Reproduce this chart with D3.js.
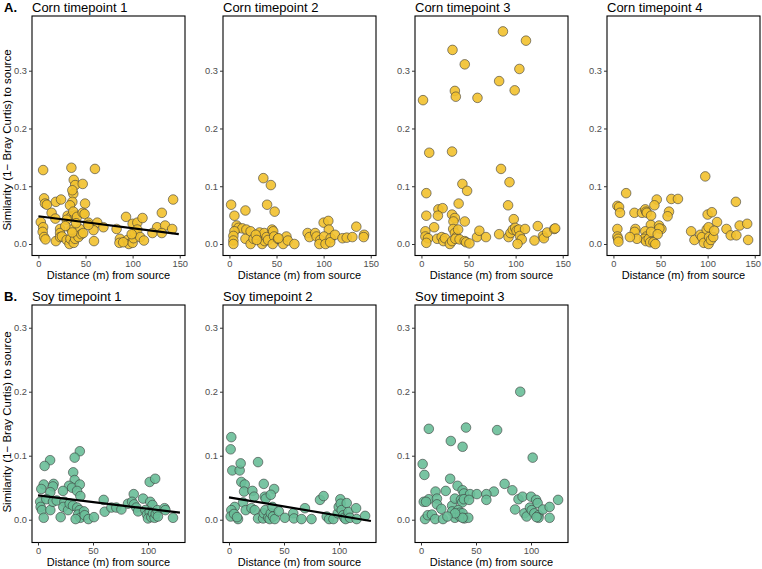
<!DOCTYPE html>
<html>
<head>
<meta charset="utf-8">
<script src="https://cdn.jsdelivr.net/npm/d3@7"></script>
<style>
  body { margin: 0; background: #fff; }
  svg text { font-family: "Liberation Sans", Arial, Helvetica, sans-serif; }
</style>
</head>
<body>
<div id="container"></div>
<script>
/* DATA: distance (m) and similarity (1 - Bray Curtis) */
const cornX1 = [5,35,60,37.5,39,47,6,7,9,18.5,24,37,36,33.5,36,49.5,143,14,18,31,35,39,37,41,47,49,53,62.5,69,93,100,105,110.5,131,126,134.5,142,2.5,5,4.5,6,7.5,18.5,23,23,23,25,30,33,34,35,37.5,39,42.5,44,45.5,47.5,59,58.5,83,86.5,86,94.5,96,100,101,102,105,108,112,121,131,99,90,30,28.5,40,53,36];
const cornY1 = [0.128,0.132,0.130,0.111,0.102,0.104,0.079,0.070,0.068,0.073,0.077,0.087,0.073,0.067,0.093,0.070,0.077,0.054,0.044,0.049,0.048,0.050,0.056,0.047,0.054,0.052,0.037,0.037,0.029,0.047,0.035,0.037,0.045,0.054,0.029,0.032,0.026,0.038,0.029,0.021,0.012,0.008,0.005,0.026,0.019,0.012,0.013,0.007,0.000,0.009,0.025,0.002,0.009,0.012,0.026,0.017,0.019,0.005,0.024,0.026,0.009,0.002,0.007,0.000,0.002,0.010,0.019,0.025,0.012,0.006,0.019,0.019,0.017,0.003,0.042,0.031,0.036,0.033,0.020];

const cornX2 = [1.8,5.3,17,36,44,40,48,7.7,9.5,13.7,5.3,4.2,4.2,4.2,18,17,22.5,22.5,25.6,32,34,34.7,37.5,37,39.5,41,45.3,46.5,47.5,46,51.5,57,60.5,62,69,83,85,91,92.5,96.5,95.5,100,105,105.5,100.5,107.5,102,107,112,120,124.5,130.5,134.7,143,142.5,28,29,52];
const cornY2 = [0.068,0.049,0.058,0.114,0.102,0.068,0.056,0.032,0.028,0.027,0.022,0.014,0.006,0.000,0.025,0.009,0.022,0.000,0.009,0.020,0.013,0.000,0.005,0.019,0.012,0.007,0.025,0.022,0.013,0.000,0.009,0.000,0.013,0.006,0.000,0.019,0.012,0.019,0.013,0.007,0.000,0.037,0.040,0.025,0.013,0.010,0.000,0.003,0.016,0.010,0.011,0.012,0.030,0.016,0.012,0.016,0.007,0.010];

const cornX3 = [86.5,111,33,46,104,82.5,99,35.5,36.5,59.5,1.7,8.3,32.5,84.5,93.5,43.5,48.5,5.2,39.5,92,18,22.5,17.5,5.2,32.5,35.5,34,46,98,13.5,4.2,4.2,7,5.2,16.7,21.5,23.3,25,30.2,32.5,33.7,35.5,37,36,39,40.5,46,47.5,51,59,61.5,68.5,82.5,92.5,94.5,97,99.5,101,103.5,104.5,106.5,102,110,120,123.5,129,130,133.5,141,142];
const cornY3 = [0.368,0.352,0.336,0.311,0.303,0.282,0.266,0.265,0.255,0.253,0.249,0.158,0.160,0.130,0.107,0.104,0.092,0.088,0.070,0.067,0.060,0.062,0.049,0.049,0.051,0.045,0.039,0.039,0.043,0.029,0.022,0.013,0.010,0.002,0.009,0.012,0.005,0.010,0.000,0.005,0.026,0.019,0.012,0.009,0.025,0.008,0.005,0.003,0.001,0.012,0.023,0.012,0.017,0.012,0.019,0.025,0.028,0.023,0.025,0.014,0.008,0.000,0.026,0.006,0.031,0.014,0.010,0.020,0.026,0.027];

const cornX4 = [97.5,13.5,61.5,68.5,46,43.5,130,4.2,6,7,22.3,30.3,33.8,34.8,35.5,40,59,57.5,100,104.5,110,4.2,23.3,22.6,39.7,48.4,51,48.8,33.8,35,32.5,34.5,37.5,40,39,42.5,44.5,47,25,17.5,4.2,5,5.3,82.5,86,92.3,94,96,99,101,101.5,101,103.5,106,107,120,124.5,130.5,134,142,143];
const cornY4 = [0.117,0.088,0.078,0.078,0.077,0.067,0.073,0.066,0.064,0.054,0.054,0.054,0.060,0.056,0.054,0.049,0.056,0.048,0.051,0.055,0.038,0.026,0.026,0.021,0.033,0.032,0.026,0.027,0.022,0.013,0.009,0.005,0.009,0.021,0.003,0.003,0.000,0.017,0.009,0.012,0.013,0.009,0.004,0.022,0.007,0.016,0.012,0.002,0.025,0.029,0.012,0.000,0.007,0.012,0.023,0.026,0.015,0.015,0.032,0.035,0.007];

const soyX1 = [38,33.3,11,6,32,33.3,101.5,106.5,5.2,14.2,13.6,3,28.2,31,22.7,11.2,38,35.5,38.5,87,95.5,102,104,2,7.6,2.4,3.6,5.2,11.2,13.6,17,20.6,24,23,27.3,28.8,31.8,35.7,37.9,36.4,38.5,34.2,41.8,42.4,45.8,50.9,59.7,60.6,66.7,71.2,75.8,81.8,85.5,87.3,89.4,91,97.6,99,101.5,100,103,104.5,106,107,108.5,109,115,115.8,122.7];
const soyY1 = [0.107,0.097,0.093,0.084,0.074,0.062,0.059,0.064,0.055,0.056,0.052,0.048,0.053,0.050,0.045,0.043,0.055,0.045,0.037,0.040,0.033,0.028,0.023,0.028,0.032,0.020,0.015,0.003,0.015,0.028,0.030,0.004,0.028,0.020,0.015,0.025,0.022,0.019,0.015,0.008,0.003,0.001,0.013,0.007,0.001,0.004,0.031,0.0125,0.019,0.019,0.016,0.025,0.028,0.024,0.019,0.013,0.015,0.008,0.012,0.002,0.004,0.010,0.003,0.009,0.015,0.005,0.018,0.015,0.003];

const soyX2 = [2.1,1.5,3,9.7,10.6,26.4,11.2,14.3,13.7,31.6,21.3,41,22.8,32.5,33.4,38,12.8,15.2,5.2,2.1,1.5,4.6,8.2,7.3,20.4,23.4,26.4,31,31.6,33,35.6,37,38,39.5,40,41.6,45.3,50.8,58.4,59,65.9,69,75,82.7,86,88.8,91,94.9,98.8,99.7,101.2,101.5,102.4,103.9,104.8,106,107,108.5,110,115.5,116,123.7];
const soyY2 = [0.129,0.110,0.077,0.077,0.088,0.090,0.059,0.055,0.044,0.056,0.045,0.048,0.036,0.036,0.033,0.039,0.027,0.015,0.020,0.015,0.005,0.009,0.001,0.004,0.018,0.015,0.002,0.002,0.010,0.015,0.003,0.001,0.010,0.020,0.005,0.001,0.013,0.003,0.010,0.002,0.001,0.018,0.001,0.031,0.037,0.005,0.001,0.001,0.010,0.020,0.032,0.025,0.015,0.007,0.003,0.001,0.026,0.012,0.003,0.018,0.001,0.006];

const soyX3 = [90.2,7.1,40.9,69.2,27.1,37.8,101.5,1.5,3.1,26.5,76,33.2,83,22.5,13.2,37.8,39,44.6,50.8,66.2,59.4,59.4,7.1,2.5,4.6,14.5,14.5,18.5,28.3,30.8,36.3,37.5,39,43.7,28.3,30.8,33.8,35.4,35.4,37.8,39.4,43,37.8,31,3.7,6.2,9.9,12.9,20,24,88.6,92.3,85.5,94,96,100,99,100.6,103,104.6,106,106.8,106.8,105,110.8,116.9,116.9,124.6];
const soyY3 = [0.200,0.142,0.144,0.140,0.123,0.114,0.097,0.087,0.070,0.064,0.056,0.053,0.046,0.045,0.044,0.046,0.041,0.040,0.040,0.044,0.040,0.031,0.032,0.028,0.028,0.033,0.024,0.017,0.022,0.033,0.031,0.027,0.032,0.031,0.013,0.003,0.015,0.011,0.005,0.010,0.002,0.003,0.003,0.010,0.001,0.007,0.008,0.001,0.001,0.005,0.032,0.036,0.016,0.010,0.005,0.036,0.019,0.015,0.010,0.031,0.026,0.007,0.003,0.004,0.016,0.020,0.003,0.031];

// fitted lines (endpoints)
const cornFit1 = {x: [0, 149], y: [0.048, 0.017]};
const soyFit1 = {x: [0, 129], y: [0.038, 0.011]};
const soyFit2 = {x: [0, 129], y: [0.035, -0.002]};

const titles = ["Corn timepoint 1","Corn timepoint 2","Corn timepoint 3","Corn timepoint 4",
                "Soy timepoint 1","Soy timepoint 2","Soy timepoint 3"];
const xTicks = [0, 50, 100, 150];
const yTicks = [0.0, 0.1, 0.2, 0.3];

/* LAYOUT */
const width = 762, height = 569;
const panelW = 153;
const colLeft = [32, 223, 415, 607];
const rows = [
  {top: 16, bottom: 255.5, yDomain: [-0.0199, 0.3947], xDomain: [-6.82, 155.6], fill: "#F2C12E", label: "A.", titleY: 12, yTitleC: 140},
  {top: 305, bottom: 542.5, yDomain: [-0.0356, 0.3355], xDomain: [-5.45, 133.6], fill: "#69BE98", label: "B.", titleY: 301, yTitleC: 422}
];

const panels = [
  {row: 0, col: 0, x: cornX1, y: cornY1, fit: cornFit1},
  {row: 0, col: 1, x: cornX2, y: cornY2},
  {row: 0, col: 2, x: cornX3, y: cornY3},
  {row: 0, col: 3, x: cornX4, y: cornY4},
  {row: 1, col: 0, x: soyX1, y: soyY1, fit: soyFit1},
  {row: 1, col: 1, x: soyX2, y: soyY2, fit: soyFit2},
  {row: 1, col: 2, x: soyX3, y: soyY3}
];

const svg = d3.select("#container")
  .append("svg")
  .attr("width", width)
  .attr("height", height);

panels.forEach((p, i) => {
  const r = rows[p.row];
  const left = colLeft[p.col];
  const xScale = d3.scaleLinear().domain(r.xDomain).range([left, left + panelW]);
  const yScale = d3.scaleLinear().domain(r.yDomain).range([r.bottom, r.top]);

  // points
  const pts = d3.zip(p.x, p.y);
  svg.append("g").selectAll("circle")
    .data(pts)
    .join("circle")
    .attr("cx", d => xScale(d[0]))
    .attr("cy", d => yScale(d[1]))
    .attr("r", 4.8)
    .attr("fill", r.fill)
    .attr("fill-opacity", 0.9)
    .attr("stroke", "#3a3a3a")
    .attr("stroke-width", 0.6);

  // fit line
  if (p.fit) {
    svg.append("path")
      .datum(d3.zip(p.fit.x, p.fit.y))
      .attr("d", d3.line().x(d => xScale(d[0])).y(d => yScale(d[1])))
      .attr("stroke", "#000")
      .attr("stroke-width", 2.2)
      .attr("fill", "none");
  }

  // border
  svg.append("rect")
    .attr("x", left).attr("y", r.top)
    .attr("width", panelW).attr("height", r.bottom - r.top)
    .attr("fill", "none").attr("stroke", "#000").attr("stroke-width", 1.1);

  // axes
  const xAxis = svg.append("g")
    .attr("transform", `translate(0,${r.bottom})`)
    .call(d3.axisBottom(xScale).tickValues(xTicks.filter(t => t <= r.xDomain[1])).tickFormat(d3.format("d")).tickSize(3).tickPadding(1.5));
  const yAxis = svg.append("g")
    .attr("transform", `translate(${left},0)`)
    .call(d3.axisLeft(yScale).tickValues(yTicks).tickFormat(d3.format(".1f")).tickSize(3).tickPadding(2));
  [xAxis, yAxis].forEach(a => {
    a.select(".domain").remove();
    a.selectAll("line").attr("stroke", "#333");
    a.selectAll("text").attr("fill", "#4d4d4d").style("font-size", "9.3px");
  });

  // keep edge tick labels inside the page
  xAxis.selectAll("text").each(function() {
    const b = this.getBBox();
    const t = d3.select(this.parentNode).attr("transform");
    const tx = +t.match(/translate\(([-\d.]+)/)[1];
    const over = tx + b.x + b.width - (width - 1);
    if (over > 0) d3.select(this).attr("dx", -over);
  });

  // title
  svg.append("text")
    .attr("x", left).attr("y", r.titleY)
    .style("font-size", "13px")
    .text(titles[i]);

  // x title
  svg.append("text")
    .attr("x", left + panelW / 2).attr("y", r.bottom + 23.5)
    .attr("text-anchor", "middle")
    .style("font-size", "11px")
    .text("Distance (m) from source");

  if (p.col === 0) {
    svg.append("text")
      .attr("transform", `translate(10.5,${r.yTitleC}) rotate(-90)`)
      .attr("text-anchor", "middle")
      .style("font-size", "11.5px")
      .text("Similarity (1\u2212 Bray Curtis) to source");
    svg.append("text")
      .attr("x", 4).attr("y", r.titleY)
      .style("font-size", "13px").style("font-weight", "bold")
      .text(r.label);
  }
});
</script>
</body>
</html>
